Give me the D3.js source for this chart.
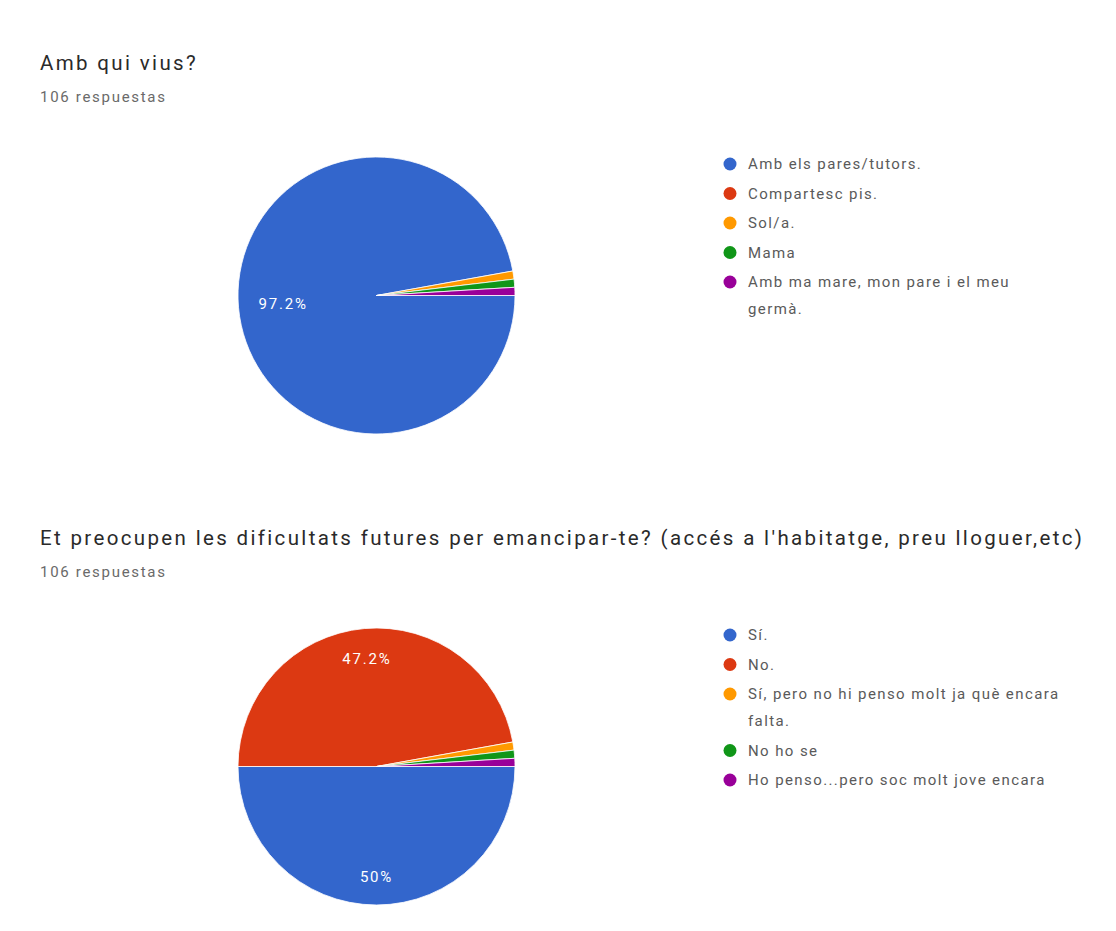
<!DOCTYPE html>
<html><head><meta charset="utf-8">
<script src="https://cdn.jsdelivr.net/npm/d3@7"></script>
<style>
html,body{margin:0;padding:0;background:#fff;}
svg{display:block;font-family:Roboto, Arial, sans-serif;}
</style></head>
<body>
<svg id="chart" width="1116" height="931"></svg>
<script>
// ---------- DATA ----------
const title1 = "Amb qui vius?";
const subtitle1 = "106 respuestas";
const categories1 = ["Amb els pares/tutors.", "Compartesc pis.", "Sol/a.", "Mama", "Amb ma mare, mon pare i el meu germà."];
const legendLines1 = [["Amb els pares/tutors."], ["Compartesc pis."], ["Sol/a."], ["Mama"], ["Amb ma mare, mon pare i el meu", "germà."]];
const values1 = [103, 0, 1, 1, 1];

const title2 = "Et preocupen les dificultats futures per emancipar-te? (accés a l'habitatge, preu lloguer,etc)";
const subtitle2 = "106 respuestas";
const categories2 = ["Sí.", "No.", "Sí, pero no hi penso molt ja què encara falta.", "No ho se", "Ho penso...pero soc molt jove encara"];
const legendLines2 = [["Sí."], ["No."], ["Sí, pero no hi penso molt ja què encara", "falta."], ["No ho se"], ["Ho penso...pero soc molt jove encara"]];
const values2 = [53, 50, 1, 1, 1];

const colors = ["#3366cc", "#dc3912", "#ff9900", "#109618", "#990099"];

// ---------- DRAW ----------
const svg = d3.select("#chart");
const fmtPct = v => { const s = d3.format(".1f")(v); return (s.endsWith(".0") ? s.slice(0, -2) : s) + "%"; };

function drawChart(cfg) {
  const g = svg.append("g");
  g.append("text").attr("x", 40).attr("y", cfg.titleY)
    .attr("font-size", 20.5).attr("letter-spacing", 2.35).attr("fill", "#2a2a2a").text(cfg.title);
  g.append("text").attr("x", 40).attr("y", cfg.titleY + 32)
    .attr("font-size", 15).attr("letter-spacing", 1.7).attr("fill", "#6a6a6a").text(cfg.subtitle);

  const cx = 376.5, cy = cfg.pieCy, r = 138.5;
  const total = d3.sum(cfg.values);
  const pie = d3.pie().sort(null).value(d => d)
    .startAngle(Math.PI / 2).endAngle(Math.PI / 2 + 2 * Math.PI);
  const arcs = pie(cfg.values);
  const arc = d3.arc().innerRadius(0).outerRadius(r);
  const color = d3.scaleOrdinal().domain(d3.range(cfg.values.length)).range(colors);

  const pg = g.append("g").attr("transform", `translate(${cx},${cy})`);
  pg.selectAll("path").data(arcs).join("path")
    .attr("d", arc)
    .attr("fill", (d, i) => color(i))
    .attr("stroke", d => d.value > 0 ? "#fff" : "none")
    .attr("stroke-width", 0.8);

  // labels
  pg.selectAll("text.lbl").data(arcs.filter(d => d.value / total > 0.05)).join("text")
    .attr("class", "lbl")
    .attr("fill", "#fff").attr("font-size", 15).attr("letter-spacing", 1.8)
    .attr("text-anchor", "middle").attr("dominant-baseline", "central")
    .text(d => fmtPct(d.value / total * 100))
    .each(function (d) {
      const bb = this.getBBox();
      const a = (d.startAngle + d.endAngle) / 2;
      const dx = Math.sin(a), dy = -Math.cos(a);
      const half = Math.abs(dx) * bb.width / 2 + Math.abs(dy) * bb.height / 2;
      const dist = 0.86 * r - half;
      d3.select(this).attr("x", dx * dist).attr("y", dy * dist);
    });

  // legend
  const lg = g.append("g");
  let y = cfg.legendY;
  cfg.legendLines.forEach((lines, i) => {
    lg.append("circle").attr("cx", 730).attr("cy", y).attr("r", 6.5).attr("fill", color(i));
    lines.forEach((ln, j) => {
      lg.append("text").attr("x", 748).attr("y", y + 5 + j * 27)
        .attr("font-size", 15).attr("letter-spacing", 1.4).attr("fill", "#5a5a5a").text(ln);
    });
    y += 29.5 + (lines.length - 1) * 27;
  });
}

drawChart({title: title1, subtitle: subtitle1, values: values1, legendLines: legendLines1,
  titleY: 70, pieCy: 295.5, legendY: 164});
drawChart({title: title2, subtitle: subtitle2, values: values2, legendLines: legendLines2,
  titleY: 545, pieCy: 766.5, legendY: 635});
</script>
</body></html>
